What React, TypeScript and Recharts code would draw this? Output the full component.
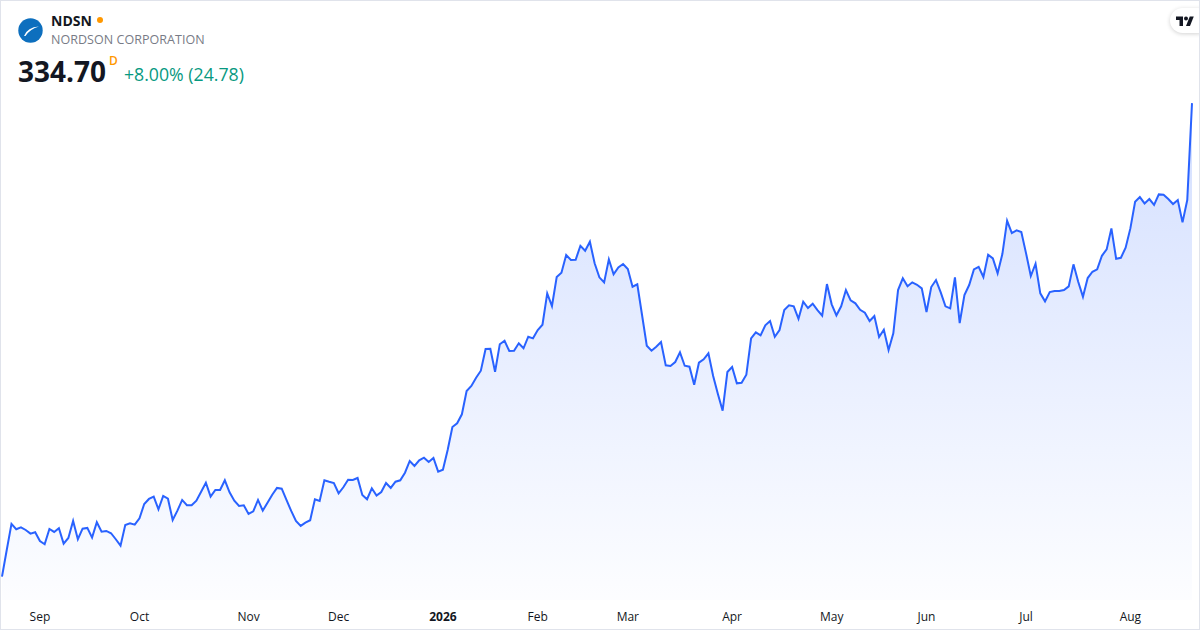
import { AreaChart, Area, XAxis, YAxis } from 'recharts';

// daily closes, Aug 20 2025 -> Aug 20 2026
const closes = [
  213.67, 220.49, 227.14, 225.78, 226.29, 225.6, 224.66, 225.02, 222.79, 221.95,
  225.86, 225.09, 226.04, 222.1, 223.56, 227.9, 223.23, 225.94, 226.12, 223.64,
  227.57, 225.17, 225.35, 224.76, 223.23, 221.59, 226.88, 227.32, 226.96, 228.59,
  232.25, 233.53, 234.11, 230.89, 234.29, 233.6, 228.16, 230.54, 233.27, 231.91,
  231.91, 233.09, 235.39, 237.69, 234.11, 235.82, 235.82, 238.3, 235.23, 233.09,
  231.74, 231.91, 229.69, 230.38, 233.27, 230.54, 232.58, 234.62, 236.34, 236.15,
  233.27, 230.46, 227.9, 226.63, 227.47, 228.08, 233.45, 233.01, 238.3, 237.94,
  237.61, 234.98, 236.51, 238.45, 238.38, 238.89, 234.55, 233.45, 236.26, 234.37,
  235.31, 237.61, 236.34, 237.94, 238.3, 240.24, 243.23, 241.96, 243.41, 244.08,
  242.98, 244.0, 240.5, 241.01, 246.04, 251.92, 252.87, 255.16, 261.12, 262.4,
  264.52, 266.31, 271.85, 271.93, 266.03, 273.08, 273.97, 271.34, 271.42, 273.31,
  272.03, 274.99, 274.58, 276.7, 278.06, 286.08, 282.84, 290.25, 291.35, 295.87,
  294.59, 294.67, 298.24, 296.97, 299.27, 293.75, 290.17, 288.89, 294.77, 290.94,
  292.72, 293.57, 292.29, 287.77, 288.38, 280.54, 272.69, 271.42, 272.44, 273.64,
  267.68, 267.51, 268.53, 271.01, 267.58, 267.33, 262.73, 268.35, 269.22, 270.75,
  264.95, 260.35, 256.09, 265.97, 267.25, 263.09, 263.24, 265.28, 274.58, 276.12,
  275.35, 277.91, 279.0, 274.99, 276.7, 281.81, 283.02, 282.76, 279.59, 283.94,
  282.33, 283.42, 281.81, 280.36, 288.46, 283.27, 280.46, 282.76, 286.92, 284.29,
  283.53, 281.89, 281.13, 279.0, 280.28, 274.92, 276.78, 271.59, 275.86, 286.92,
  289.91, 287.87, 288.89, 288.27, 287.35, 281.3, 287.69, 289.48, 286.33, 282.76,
  282.24, 290.17, 278.49, 285.65, 288.2, 292.21, 292.87, 290.25, 295.94, 295.02,
  291.19, 296.12, 304.63, 301.49, 302.17, 301.74, 296.3, 290.5, 293.64, 286.08,
  284.03, 286.41, 286.67, 286.67, 286.92, 287.87, 293.49, 289.04, 285.21, 289.99,
  291.6, 292.21, 295.68, 297.32, 302.68, 294.92, 295.17, 297.73, 302.68, 309.48,
  310.69, 309.07, 310.18, 308.71, 311.37, 311.27, 310.18, 308.9, 309.92, 304.22,
  309.92, 334.7,
];

const monthLabels = ['Sep', 'Oct', 'Nov', 'Dec', '2026', 'Feb', 'Mar', 'Apr', 'May', 'Jun', 'Jul', 'Aug'];
const monthTickIdx = [8, 29, 52, 71, 93, 113, 132, 154, 175, 195, 216, 238];

const symbol = 'NDSN';
const company = 'NORDSON CORPORATION';
const lastPrice = '334.70';
const change = '+8.00% (24.78)';

const data = closes.map((close, idx) => ({ idx, close }));

const font = '"Open Sans", "Noto Sans", sans-serif';

function MonthTick(props: any) {
  const { x, payload } = props;
  const label = monthLabels[monthTickIdx.indexOf(payload.value)];
  return (
    <text
      x={x}
      y={621}
      textAnchor="middle"
      fontSize={12}
      fontFamily={font}
      fontWeight={label === '2026' ? 700 : 400}
      fill="#131722"
    >
      {label}
    </text>
  );
}

export default function App() {
  return (
    <div style={{ position: 'absolute', left: 0, top: 0, width: 1200, height: 630, background: '#fff', overflow: 'hidden', fontFamily: font }}>
      <AreaChart width={1200} height={630} data={data} margin={{ top: 10, right: 8, left: 2, bottom: 0 }}>
        <defs>
          <linearGradient id="ndsnFill" x1="0" y1="0" x2="0" y2="1">
            <stop offset="0%" stopColor="#2962ff" stopOpacity={0.34} />
            <stop offset="100%" stopColor="#2962ff" stopOpacity={0.02} />
          </linearGradient>
        </defs>
        <XAxis
          dataKey="idx"
          type="number"
          domain={[0, closes.length - 1]}
          ticks={monthTickIdx}
          interval={0}
          tick={(p: any) => <MonthTick {...p} />}
          axisLine={false}
          tickLine={false}
          height={30}
        />
        <YAxis hide domain={[207.7, 358.5]} allowDataOverflow />
        <Area
          type="linear"
          dataKey="close"
          stroke="#2962ff"
          strokeWidth={2}
          fill="url(#ndsnFill)"
          dot={false}
          activeDot={false}
          isAnimationActive={false}
        />
      </AreaChart>

      {/* header */}
      <svg width={26} height={26} style={{ position: 'absolute', left: 18, top: 18 }}>
        <circle cx={12.5} cy={12.5} r={12.2} fill="#0d6fbe" />
        <path d="M6 18 Q9.5 9 21 8.5 Q12 11 7.5 18 Z" fill="#fff" />
      </svg>
      <div style={{ position: 'absolute', left: 51, top: 11, fontSize: 14, fontWeight: 700, color: '#131722', lineHeight: '20px' }}>
        {symbol}
        <span style={{ display: 'inline-block', width: 6, height: 6, borderRadius: 3, background: '#ff9800', marginLeft: 5, verticalAlign: 'middle', position: 'relative', top: -2 }} />
      </div>
      <div style={{ position: 'absolute', left: 51, top: 31, fontSize: 12.5, color: '#787b86', lineHeight: '18px', letterSpacing: 0.05 }}>
        {company}
      </div>
      <div style={{ position: 'absolute', left: 18, top: 52, fontSize: 28, fontWeight: 700, color: '#131722', lineHeight: '38px' }}>
        {lastPrice}
      </div>
      <div style={{ position: 'absolute', left: 109, top: 53, fontSize: 12, fontWeight: 600, color: '#ff9800', lineHeight: '16px' }}>
        D
      </div>
      <div style={{ position: 'absolute', left: 124, top: 61, fontSize: 17.7, color: '#089981', lineHeight: '26px' }}>
        {change}
      </div>

      {/* tradingview badge */}
      <div style={{ position: 'absolute', left: 1170, top: 8, width: 40, height: 25, borderRadius: 13, background: '#fff', boxShadow: '0 1px 4px rgba(0,0,0,0.18)' }}>
        <svg width={18} height={11} viewBox="0 0 36 22" preserveAspectRatio="none" style={{ position: 'absolute', left: 6, top: 7 }}>
          <path d="M14 22H7V10H0V3h14v19z" fill="#131722" />
          <circle cx={20} cy={7} r={4} fill="#131722" />
          <path d="M28 22h-8l7.5-19h8L28 22z" fill="#131722" />
        </svg>
      </div>

      <div style={{ position: 'absolute', left: 0, top: 0, width: 1200, height: 630, boxSizing: 'border-box', border: '1px solid #e0e3eb', pointerEvents: 'none' }} />
    </div>
  );
}
